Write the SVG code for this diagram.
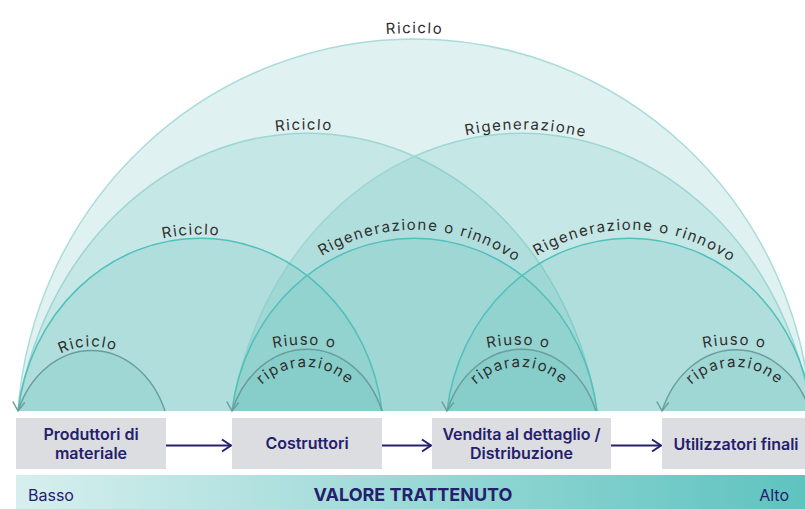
<svg xmlns="http://www.w3.org/2000/svg" width="805" height="509" viewBox="0 0 805 509">
  <style>
    .arch { fill: #5fbeb9; fill-opacity: 0.2; stroke-width: 1.5; }
    .s-xl { stroke: #a9dcda; }
    .s-l { stroke: #9ed6d4; }
    .s-m { stroke: #4fc0bc; }
    .s-s { stroke: #6a9e9c; }
    .lbl { font-family: Inter, "Noto Sans", sans-serif; font-size: 15px; fill: #2e2e2e; letter-spacing: 1.5px; }
    .box { fill: #dcdde0; }
    .bt { font-family: Inter, "Liberation Sans", sans-serif; font-size: 16px; font-weight: 600; fill: #24206d; text-anchor: middle; }
    .flow { stroke: #24206d; stroke-width: 2; fill: none; }
    .bar { font-family: Inter, "Liberation Sans", sans-serif; fill: #24206d; }
  </style>
  <defs>
    <marker id="ah" viewBox="-2 -8 13 16" refX="9" refY="0" markerWidth="13" markerHeight="16" markerUnits="userSpaceOnUse" orient="95">
      <path d="M0,-6 L9,0 L0,6" fill="none" stroke="#6a9e9c" stroke-width="1.5"/>
    </marker>
    <marker id="fa" viewBox="-2 -8 13 16" refX="9" refY="0" markerWidth="13" markerHeight="16" markerUnits="userSpaceOnUse" orient="auto">
      <path d="M0,-6 L9,0 L0,6" fill="none" stroke="#24206d" stroke-width="2"/>
    </marker>
    <linearGradient id="grad" x1="0" y1="0" x2="1" y2="0">
      <stop offset="0" stop-color="#d6efee"/>
      <stop offset="1" stop-color="#5ec3bf"/>
    </linearGradient>
    <path id="p-top" d="M12,411 A403.6,408 0 0 1 817,411"/>
    <path id="p-lric" d="M14,411 A298.2,342 0 0 1 601,411"/>
    <path id="p-lrig" d="M228,411 A298.2,342 0 0 1 815,411"/>
    <path id="p-mric" d="M14,411 A187.5,202 0 0 1 386,411"/>
    <path id="p-mrig1" d="M227.5,411 A188,202 0 0 1 601.5,411"/>
    <path id="p-mrig2" d="M442.5,411 A188,202 0 0 1 816.5,411"/>
    <path id="p-sric" d="M13.8,411 A83.3,101 0 0 1 169.2,411"/>
    <path id="p-ru1" d="M214.4,374.8 A150,150 0 0 1 394.4,374.8"/>
    <path id="p-ru2" d="M428.5,374.8 A150,150 0 0 1 608.5,374.8"/>
    <path id="p-ru3" d="M644.5,374.8 A150,150 0 0 1 824.5,374.8"/>
    <path id="p-rp1" d="M243.5,429 A62,62 0 0 1 367.5,429"/>
    <path id="p-rp2" d="M457.5,429 A62,62 0 0 1 581.5,429"/>
    <path id="p-rp3" d="M673,429 A62,62 0 0 1 797,429"/>
  </defs>

  <g id="connectors">
    <path class="arch s-xl" d="M18,411 A397.6,402 0 0 1 811,411"/>
    <path class="arch s-l" d="M18,411 A294.2,338 0 0 1 597,411"/>
    <path class="arch s-l" d="M232,411 A294.2,338 0 0 1 811,411"/>
    <path class="arch s-m" d="M18,411 A183.5,198 0 0 1 382,411"/>
    <path class="arch s-m" d="M232,411 A184,198 0 0 1 597,411"/>
    <path class="arch s-m" d="M447,411 A184,198 0 0 1 812,411"/>
    <path class="arch s-s" d="M18,411 A79.3,97 0 0 1 165,411" marker-start="url(#ah)"/>
    <path class="arch s-s" d="M232,411 A80.5,97 0 0 1 382,411" marker-start="url(#ah)"/>
    <path class="arch s-s" d="M447,411 A80,97 0 0 1 596,411" marker-start="url(#ah)"/>
    <path class="arch s-s" d="M662,411 A79.6,97 0 0 1 810,411" marker-start="url(#ah)"/>

    <path class="flow" d="M166,445.5 H231" marker-end="url(#fa)"/>
    <path class="flow" d="M382,445.5 H431" marker-end="url(#fa)"/>
    <path class="flow" d="M611,445.5 H661" marker-end="url(#fa)"/>

    <g id="arc-labels">
      <text class="lbl"><textPath href="#p-top" startOffset="50%" text-anchor="middle">Riciclo</textPath></text>
      <text class="lbl"><textPath href="#p-lric" startOffset="49.6%" text-anchor="middle">Riciclo</textPath></text>
      <text class="lbl"><textPath href="#p-lrig" startOffset="50.5%" text-anchor="middle">Rigenerazione</textPath></text>
      <text class="lbl"><textPath href="#p-mric" startOffset="48.4%" text-anchor="middle">Riciclo</textPath></text>
      <text class="lbl"><textPath href="#p-mrig1" startOffset="51%" text-anchor="middle">Rigenerazione o rinnovo</textPath></text>
      <text class="lbl"><textPath href="#p-mrig2" startOffset="51%" text-anchor="middle">Rigenerazione o rinnovo</textPath></text>
      <text class="lbl"><textPath href="#p-sric" startOffset="48.4%" text-anchor="middle">Riciclo</textPath></text>
      <text class="lbl"><textPath href="#p-ru1" startOffset="50%" text-anchor="middle">Riuso o</textPath></text>
      <text class="lbl"><textPath href="#p-rp1" startOffset="50%" text-anchor="middle">riparazione</textPath></text>
      <text class="lbl"><textPath href="#p-ru2" startOffset="50%" text-anchor="middle">Riuso o</textPath></text>
      <text class="lbl"><textPath href="#p-rp2" startOffset="50%" text-anchor="middle">riparazione</textPath></text>
      <text class="lbl"><textPath href="#p-ru3" startOffset="50%" text-anchor="middle">Riuso o</textPath></text>
      <text class="lbl"><textPath href="#p-rp3" startOffset="50%" text-anchor="middle">riparazione</textPath></text>
    </g>
  </g>

  <g id="node-produttori">
    <rect class="box" x="16" y="418" width="150" height="51"/>
    <text class="bt" x="91" y="440">Produttori di</text>
    <text class="bt" x="91" y="458.5">materiale</text>
  </g>
  <g id="node-costruttori">
    <rect class="box" x="232" y="418" width="150" height="51"/>
    <text class="bt" x="307" y="449">Costruttori</text>
  </g>
  <g id="node-vendita">
    <rect class="box" x="432" y="418" width="179" height="51"/>
    <text class="bt" x="521.5" y="440">Vendita al dettaglio /</text>
    <text class="bt" x="521.5" y="459">Distribuzione</text>
  </g>
  <g id="node-utilizzatori">
    <rect class="box" x="662" y="418" width="143" height="51"/>
    <text class="bt" x="736" y="450">Utilizzatori finali</text>
  </g>

  <g id="valore-bar">
    <rect x="16" y="475" width="789" height="34" fill="url(#grad)"/>
    <text class="bar" x="28" y="501" font-size="16">Basso</text>
    <text class="bar" x="413" y="501" font-size="18" font-weight="700" text-anchor="middle">VALORE TRATTENUTO</text>
    <text class="bar" x="789" y="501" font-size="16" text-anchor="end">Alto</text>
  </g>
</svg>
